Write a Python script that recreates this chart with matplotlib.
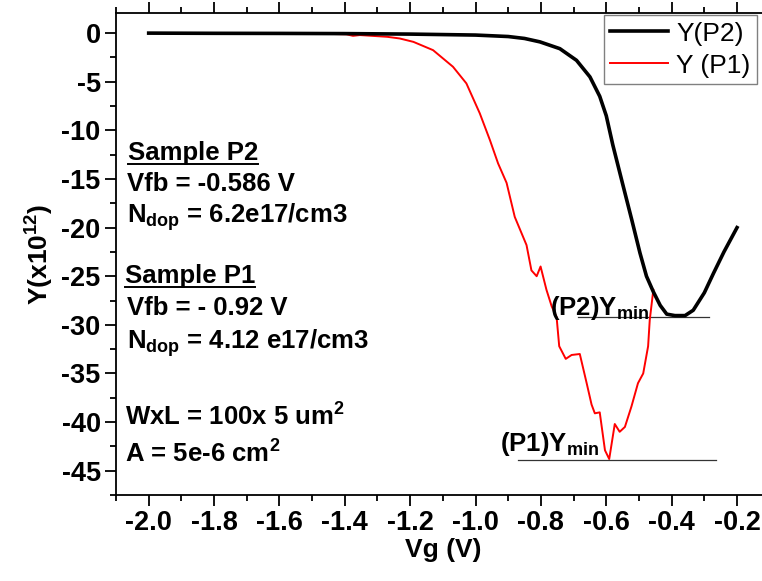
import matplotlib
matplotlib.use("Agg")
import matplotlib.pyplot as plt
from matplotlib.lines import Line2D
from matplotlib.ticker import MultipleLocator, FormatStrFormatter

# Y-function curves, Y in units of 1e12
vg_p2 = [-2.0, -1.8, -1.6, -1.4, -1.2, -1.0, -0.9, -0.85, -0.803, -0.742, -0.691, -0.65,
         -0.62, -0.60, -0.58, -0.55, -0.522, -0.497, -0.477, -0.456, -0.435, -0.415, -0.39,
         -0.359, -0.334, -0.30, -0.272, -0.24, -0.2]
y_p2 = [0.0, -0.02, -0.03, -0.05, -0.1, -0.2, -0.35, -0.55, -0.9, -1.6, -2.8, -4.5,
        -6.5, -8.5, -11.5, -15.5, -19.2, -22.6, -25.0, -26.6, -28.0, -28.9, -29.05,
        -29.05, -28.5, -26.7, -24.7, -22.5, -20.0]

vg_p1 = [-1.8, -1.6, -1.45, -1.395, -1.375, -1.354, -1.27, -1.232, -1.19, -1.13, -1.069,
         -1.028, -0.987, -0.956, -0.931, -0.905, -0.880, -0.844, -0.829, -0.813, -0.801,
         -0.783, -0.767, -0.752, -0.744, -0.724, -0.706, -0.681, -0.660, -0.645, -0.635,
         -0.62, -0.604, -0.591, -0.574, -0.559, -0.543, -0.523, -0.503, -0.487, -0.472,
         -0.467, -0.456]
y_p1 = [0.0, -0.03, -0.08, -0.12, -0.28, -0.2, -0.38, -0.55, -0.9, -1.75, -3.46,
        -5.17, -8.25, -11.0, -13.4, -15.4, -18.9, -21.8, -24.4, -25.0, -24.0,
        -26.4, -28.1, -29.2, -32.2, -33.5, -33.1, -33.0, -36.0, -38.2, -39.1,
        -39.0, -42.9, -43.8, -40.2, -41.0, -40.5, -38.4, -36.0, -35.0, -32.2,
        -29.5, -26.4]

# minimum markers: (y level, x start, x end)
ymin_p2 = (-29.2, -0.687, -0.286)
ymin_p1 = (-43.9, -0.871, -0.264)

plt.rcParams["font.family"] = ["Liberation Sans", "DejaVu Sans"]
plt.rcParams["mathtext.fontset"] = "custom"
plt.rcParams["mathtext.rm"] = "Liberation Sans"
plt.rcParams["mathtext.bf"] = "Liberation Sans:bold"
plt.rcParams["axes.unicode_minus"] = False

fig = plt.figure(figsize=(7.62, 5.81), dpi=100)
ax = fig.add_axes([116 / 762, 86 / 581, (769.7 - 116) / 762, (495 - 12.7) / 581])

ax.plot(vg_p2, y_p2, color="black", lw=2.6, label="Y(P2)", zorder=3)
ax.plot(vg_p1, y_p1, color="#ff0000", lw=1.4, label="Y (P1)", zorder=2)

for lev, x0, x1 in (ymin_p2, ymin_p1):
    ax.plot([x0, x1], [lev, lev], color="#333333", lw=0.9, zorder=1)

ax.set_xlim(-2.1, -0.1)
ax.set_ylim(-47.5, 2.1)
ax.xaxis.set_major_locator(MultipleLocator(0.2))
ax.xaxis.set_minor_locator(MultipleLocator(0.1))
ax.xaxis.set_major_formatter(FormatStrFormatter("%.1f"))
ax.yaxis.set_major_locator(MultipleLocator(5))
ax.yaxis.set_minor_locator(MultipleLocator(2.5))

for s in ax.spines.values():
    s.set_linewidth(1.3)
ax.tick_params(which="both", direction="out", width=1.3, top=True, right=False)
ax.tick_params(which="major", length=8, labelsize=19.5, pad=3)
ax.tick_params(which="minor", length=4.5)
for lab in ax.get_xticklabels() + ax.get_yticklabels():
    lab.set_fontweight("bold")

ax.set_xlabel("Vg (V)", fontsize=19, fontweight="bold", labelpad=1)
ax.set_ylabel(r"Y(x10$^{\mathbf{12}}$)", fontsize=19, fontweight="bold", labelpad=5)

leg = ax.legend(loc="upper right", bbox_to_anchor=(757 / 762, 1 - 15 / 581),
                bbox_transform=fig.transFigure, borderaxespad=0, fancybox=False,
                framealpha=1, edgecolor="#808080", fontsize=19, handlelength=2.2,
                handletextpad=0.3, borderpad=0.25, labelspacing=0.3)
leg.get_frame().set_linewidth(1.0)

tkw = dict(fontsize=18.5, fontweight="bold", ha="left", va="baseline", zorder=5)
header_p2 = ax.text(-2.064, -13.05, "Sample P2", **tkw)
ax.text(-2.067, -16.2, "Vfb = -0.586 V", **tkw)
ax.text(-2.067, -19.5, r"N$_{\mathbf{dop}}$ = 6.2e17/cm3", **tkw)
header_p1 = ax.text(-2.073, -25.7, "Sample P1", **tkw)
ax.text(-2.067, -29.0, "Vfb = - 0.92 V", **tkw)
ax.text(-2.067, -32.4, r"N$_{\mathbf{dop}}$ = 4.12 e17/cm3", **tkw)
ax.text(-2.073, -40.3, r"WxL = 100x 5 um$^{\mathbf{2}}$", **tkw)
ax.text(-2.073, -44.1, r"A = 5e-6 cm$^{\mathbf{2}}$", **tkw)

ax.text(-0.773, -28.98, r"(P2)Y$_{\mathbf{min}}$", **tkw)
ax.text(-0.926, -42.93, r"(P1)Y$_{\mathbf{min}}$", **tkw)

# underline the two sample headers
fig.canvas.draw()
renderer = fig.canvas.get_renderer()
inv = fig.transFigure.inverted()
for t in (header_p2, header_p1):
    bb = t.get_window_extent(renderer)
    base = ax.transData.transform(t.get_position())[1]
    yline = base - 4
    (fx0, fy), (fx1, _) = inv.transform([(bb.x0, yline), (bb.x1, yline)])
    fig.add_artist(Line2D([fx0, fx1], [fy, fy], color="black", lw=1.4))

fig.savefig("out.png", dpi=100)
